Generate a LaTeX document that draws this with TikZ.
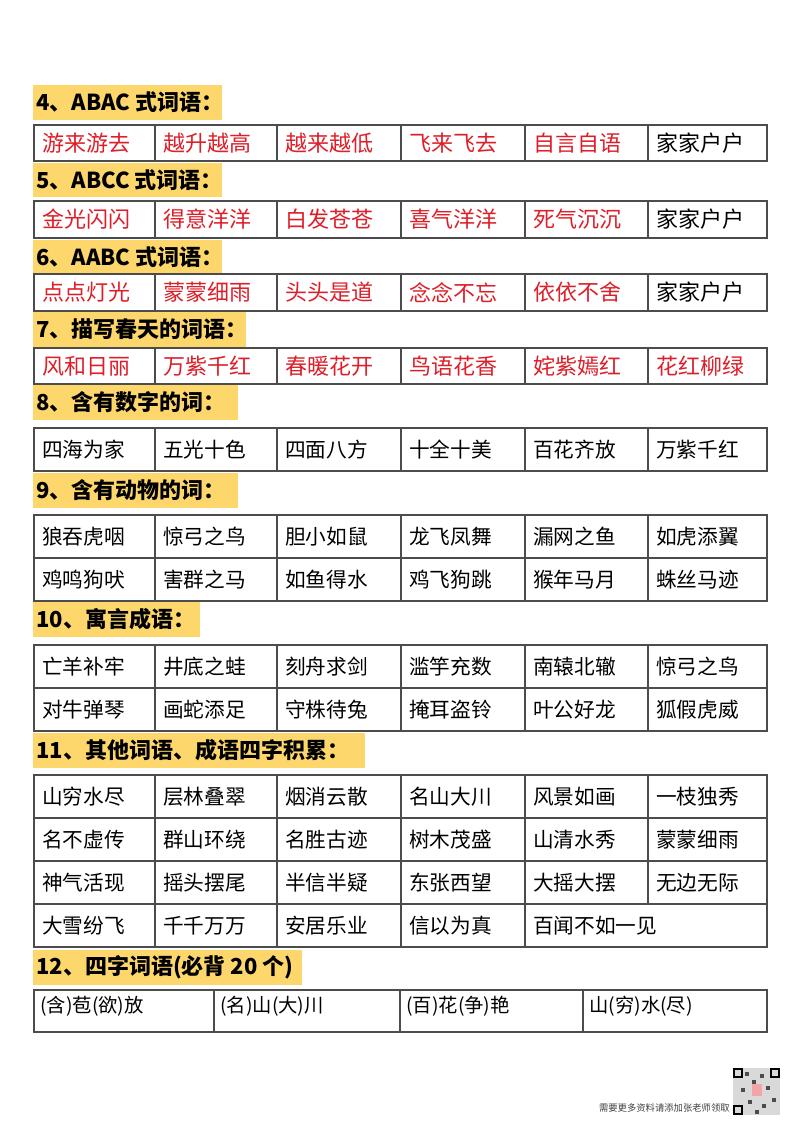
\documentclass[tikz,border=0pt]{standalone}
\usepackage{fontspec}
\setmainfont{Noto Sans CJK SC}
\definecolor{hl}{RGB}{253,214,108}
\definecolor{rd}{RGB}{222,30,40}
\tikzset{grid/.style={draw=black!70,line width=0.9pt},
 head/.style={anchor=west,inner sep=0pt,font=\fontsize{16.5}{16.5}\selectfont\bfseries},
 cell/.style={anchor=west,inner sep=0pt,font=\fontsize{16.5}{16.5}\selectfont},
 bcell/.style={anchor=west,inner sep=0pt,font=\fontsize{15.5}{15.5}\selectfont}}
\newcommand\hdr[5]{\fill[hl] (33,#1) rectangle (#3,#2);
 \node[head] (#4) at (36,{(#1+#2)/2}) {#5};}
% ytop ybot name list(word/color/style)
\newcommand\wrow[4]{\draw[grid] (34,#1) rectangle (767,#2);
 \foreach \x in {155,277,401,525,648} \draw[grid] (\x,#1) -- (\x,#2);
 \foreach \w/\c/\s [count=\i] in {#4} {
  \pgfmathsetmacro\xl{{34,155,277,401,525,648}[\i-1]}
  \node[\s,text=\c] (#3-\i) at (\xl+8,{(#1+#2)/2}) {\w};}}
\begin{document}
\begin{tikzpicture}[x=0.75pt,y=-0.75pt]
\useasboundingbox[fill=white] (0,0) rectangle (800,1132);
\hdr{85}{120}{222}{h4}{4、ABAC 式词语：}
\wrow{125}{161}{a}{游来游去/rd/cell,越升越高/rd/cell,越来越低/rd/cell,飞来飞去/rd/cell,自言自语/rd/cell,家家户户/black/cell}
\hdr{163}{197}{222}{h5}{5、ABCC 式词语：}
\wrow{201}{238}{b}{金光闪闪/rd/cell,得意洋洋/rd/cell,白发苍苍/rd/cell,喜气洋洋/rd/cell,死气沉沉/rd/cell,家家户户/black/cell}
\hdr{240}{274}{222}{h6}{6、AABC 式词语：}
\wrow{274}{311}{c}{点点灯光/rd/cell,蒙蒙细雨/rd/cell,头头是道/rd/cell,念念不忘/rd/cell,依依不舍/rd/cell,家家户户/black/cell}
\hdr{312}{347}{246}{h7}{7、描写春天的词语：}
\wrow{348}{384}{d}{风和日丽/rd/cell,万紫千红/rd/cell,春暖花开/rd/cell,鸟语花香/rd/cell,姹紫嫣红/rd/cell,花红柳绿/rd/cell}
\hdr{385}{420}{238}{h8}{8、含有数字的词：}
\wrow{428}{471}{e}{四海为家/black/bcell,五光十色/black/bcell,四面八方/black/bcell,十全十美/black/bcell,百花齐放/black/bcell,万紫千红/black/bcell}
\hdr{473}{508}{238}{h9}{9、含有动物的词：}
\wrow{515}{558}{f}{狼吞虎咽/black/bcell,惊弓之鸟/black/bcell,胆小如鼠/black/bcell,龙飞凤舞/black/bcell,漏网之鱼/black/bcell,如虎添翼/black/bcell}
\wrow{558}{601}{g}{鸡鸣狗吠/black/bcell,害群之马/black/bcell,如鱼得水/black/bcell,鸡飞狗跳/black/bcell,猴年马月/black/bcell,蛛丝马迹/black/bcell}
\hdr{602}{637}{200}{h10}{10、寓言成语：}
\wrow{645}{688}{i}{亡羊补牢/black/bcell,井底之蛙/black/bcell,刻舟求剑/black/bcell,滥竽充数/black/bcell,南辕北辙/black/bcell,惊弓之鸟/black/bcell}
\wrow{688}{731}{j}{对牛弹琴/black/bcell,画蛇添足/black/bcell,守株待兔/black/bcell,掩耳盗铃/black/bcell,叶公好龙/black/bcell,狐假虎威/black/bcell}
\hdr{733}{768}{365}{h11}{11、其他词语、成语四字积累：}
\wrow{775}{818}{k}{山穷水尽/black/bcell,层林叠翠/black/bcell,烟消云散/black/bcell,名山大川/black/bcell,风景如画/black/bcell,一枝独秀/black/bcell}
\wrow{818}{861}{l}{名不虚传/black/bcell,群山环绕/black/bcell,名胜古迹/black/bcell,树木茂盛/black/bcell,山清水秀/black/bcell,蒙蒙细雨/black/bcell}
\wrow{861}{904}{m}{神气活现/black/bcell,摇头摆尾/black/bcell,半信半疑/black/bcell,东张西望/black/bcell,大摇大摆/black/bcell,无边无际/black/bcell}
\draw[grid] (34,904) rectangle (767,947);
\foreach \x in {155,277,401,525} \draw[grid] (\x,904) -- (\x,947);
\foreach \w/\xl [count=\i] in {大雪纷飞/34,千千万万/155,安居乐业/277,信以为真/401,百闻不如一见/525}
  \node[bcell] (n-\i) at (\xl+8,925.5) {\w};
\hdr{950}{985}{302}{h12}{12、四字词语(必背 20 个)}
\draw[grid] (34,990) rectangle (767,1032);
\foreach \x in {214,400,583} \draw[grid] (\x,990) -- (\x,1032);
\foreach \w/\xl [count=\i] in {(含)苞(欲)放/34,(名)山(大)川/214,(百)花(争)艳/400,山(穷)水(尽)/583}
  \node[bcell,font=\fontsize{14.5}{14.5}\selectfont] (q-\i) at (\xl+6,1006) {\w};
\node[anchor=east,inner sep=0pt,font=\fontsize{7}{7}\selectfont,text=black!75] (foot) at (730,1108) {需要更多资料请添加张老师领取};
\fill[black!15] (733,1068) rectangle (780,1115);
\foreach \a/\b in {733/1068,770/1068,733/1105} {\draw[black,line width=1.2pt] (\a+1,\b+1) rectangle (\a+9,\b+9);}
\foreach \a/\b in {745/1072,752/1080,760/1074,741/1088,758/1092,766/1086,748/1100,762/1104,772/1098,755/1110}
  \fill[black!70] (\a,\b) rectangle ++(4,4);
\fill[rd!40] (752,1084) rectangle (762,1096);
\end{tikzpicture}
\end{document}
